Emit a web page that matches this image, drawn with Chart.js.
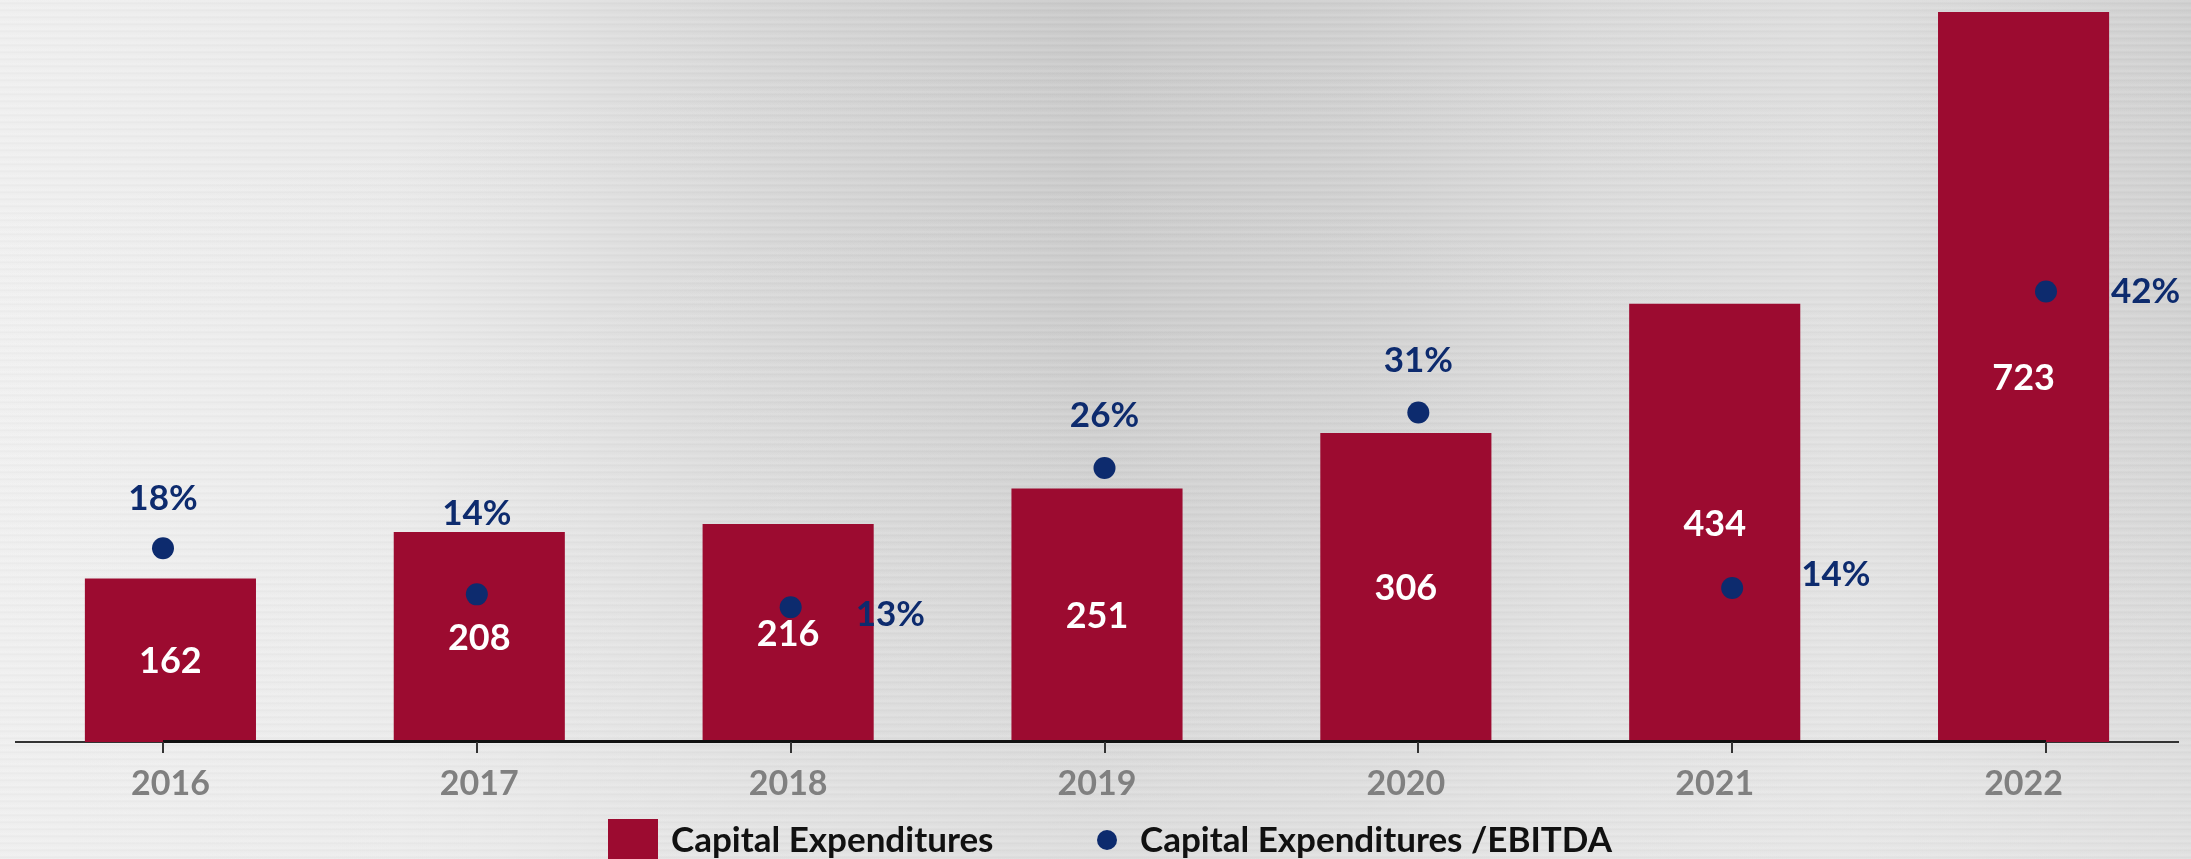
<!DOCTYPE html>
<html>
<head>
<meta charset="utf-8">
<script src="https://cdn.jsdelivr.net/npm/chart.js@4.4.1/dist/chart.umd.min.js"></script>
<style>
  html, body { margin: 0; padding: 0; }
  body { width: 2191px; height: 859px; overflow: hidden; }
  #wrap {
    position: relative; width: 2191px; height: 859px;
    background:
      repeating-linear-gradient(180deg, rgba(255,255,255,0.10) 0px, rgba(255,255,255,0.10) 2px, rgba(0,0,0,0.025) 3px, rgba(0,0,0,0.0) 5px, rgba(255,255,255,0.06) 7px),
      linear-gradient(180deg, rgba(255,255,255,0) 0%, rgba(255,255,255,0.05) 40%, rgba(238,238,238,0.55) 100%),
      linear-gradient(90deg, #efefef 0%, #e9e9e9 18%, #d6d6d6 35%, #c9c9c9 50%, #cfcfcf 62%, #d9d9d9 72%, #dedede 84%, #cfcfcf 100%);
  }
  canvas { position: absolute; left: 0; top: 0; }
  .legend {
    position: absolute; font-family: Lato, "Open Sans", sans-serif; font-weight: 700;
    font-size: 35px; color: #111; line-height: 40px; white-space: nowrap;
  }
  .lbox { position: absolute; left: 608px; top: 819px; width: 50px; height: 40px; background: #9c0b30; }
  .ldot { position: absolute; left: 1097px; top: 830px; width: 20px; height: 20px; border-radius: 50%; background: #0d2b6e; }
</style>
</head>
<body>
<div id="wrap">
  <canvas id="c" width="2191" height="859"></canvas>
  <div class="lbox"></div>
  <div class="legend" style="left:671px; top:818px;">Capital Expenditures</div>
  <div class="ldot"></div>
  <div class="legend" style="left:1140px; top:818px;">Capital Expenditures /EBITDA</div>
</div>
<script>
// ---- data ----
const years = ['2016', '2017', '2018', '2019', '2020', '2021', '2022'];
const capex = [162, 208, 216, 251, 306, 434, 723];
const capexToEbitda = [18.1, 13.8, 12.6, 25.6, 30.8, 14.4, 42.1];
const capexToEbitdaLabels = ['18%', '14%', '13%', '26%', '31%', '14%', '42%'];

// ---- label layout (style, not data) ----
const pctPlace = ['top', 'top', 'right', 'top', 'top', 'right', 'right'];
const pctDx = [0, 0, 65, 0, 0, 69, 65];
const pctDy = [-50, -81, 8, -52, -52, -13, 0];

const BAR = '#9c0b30';
const NAVY = '#0d2b6e';
const FONT = 'Lato, "Open Sans", sans-serif';

const labelPlugin = {
  id: 'labels',
  afterDatasetsDraw(chart) {
    const ctx = chart.ctx;
    const x2 = chart.scales.x2;
    const base = chart.chartArea.bottom;
    ctx.save();
    // secondary axis line + ticks
    ctx.strokeStyle = '#111';
    ctx.lineWidth = 3;
    ctx.beginPath();
    ctx.moveTo(x2.getPixelForValue(0), base - 0.5);
    ctx.lineTo(x2.getPixelForValue(years.length - 1), base - 0.5);
    ctx.stroke();
    ctx.lineWidth = 2;
    ctx.strokeStyle = '#333';
    years.forEach((y, i) => {
      const px = Math.round(x2.getPixelForValue(i));
      ctx.beginPath();
      ctx.moveTo(px, base);
      ctx.lineTo(px, base + 11);
      ctx.stroke();
    });
    // bar values
    const barMeta = chart.getDatasetMeta(1);
    ctx.font = '700 36px ' + FONT;
    ctx.fillStyle = '#ffffff';
    ctx.textAlign = 'center';
    ctx.textBaseline = 'middle';
    barMeta.data.forEach((bar, i) => {
      ctx.fillText(String(capex[i]), bar.x, (bar.y + bar.base) / 2 + 1);
    });
    // percentage labels
    const dotMeta = chart.getDatasetMeta(0);
    ctx.font = '700 35px ' + FONT;
    ctx.fillStyle = NAVY;
    dotMeta.data.forEach((pt, i) => {
      ctx.textAlign = pctPlace[i] === 'top' ? 'center' : 'left';
      ctx.fillText(capexToEbitdaLabels[i], pt.x + pctDx[i], pt.y + pctDy[i]);
    });
    ctx.restore();
  }
};

new Chart(document.getElementById('c'), {
  type: 'bar',
  data: {
    labels: years,
    datasets: [
      {
        type: 'line',
        label: 'Capital Expenditures /EBITDA',
        data: capexToEbitda.map((v, i) => ({ x: i, y: v })),
        xAxisID: 'x2',
        yAxisID: 'y2',
        showLine: false,
        pointRadius: 11,
        pointHoverRadius: 11,
        pointBackgroundColor: NAVY,
        pointBorderWidth: 0,
        borderColor: NAVY,
        order: 0
      },
      {
        type: 'bar',
        label: 'Capital Expenditures',
        data: capex,
        xAxisID: 'x',
        yAxisID: 'y',
        backgroundColor: BAR,
        borderWidth: 0,
        grouped: false,
        barPercentage: 1,
        categoryPercentage: 0.554,
        order: 1
      }
    ]
  },
  options: {
    responsive: false,
    animation: false,
    layout: { autoPadding: false, padding: { left: 16, right: 13, top: 0, bottom: 0 } },
    plugins: { legend: { display: false }, tooltip: { enabled: false } },
    scales: {
      x: {
        type: 'category',
        position: 'bottom',
        offset: true,
        grid: { display: false },
        border: { display: true, color: '#333', width: 2 },
        ticks: { color: '#808080', font: { family: FONT, size: 34, weight: '700' }, padding: 14, maxRotation: 0 },
        afterFit(scale) { scale.height = 859 - 742; }
      },
      x2: {
        type: 'linear',
        display: false,
        offset: false,
        grid: { offset: false },
        min: -0.4684,
        max: 6.4206
      },
      y: { display: false, min: 0, max: 735 },
      y2: { display: false, min: 0, max: 69.35 }
    }
  },
  plugins: [labelPlugin]
});
</script>
</body>
</html>
